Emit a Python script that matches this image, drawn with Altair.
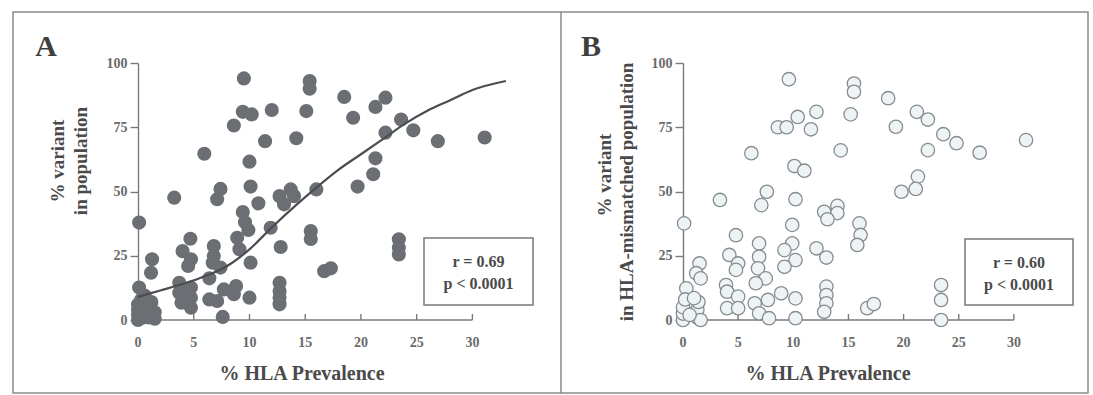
import altair as alt
import pandas as pd

# ---------------- data ----------------
a_x = [9.5, 9.4, 10.2, 12.0, 15.1, 15.4, 15.4, 8.6, 11.4, 14.2, 5.95, 10.0, 7.4, 7.1, 10.1, 3.25,
       13.7, 12.7, 13.1, 10.8, 14.0,
       18.5, 19.3, 21.3, 22.2, 23.6, 22.2, 24.7, 26.9, 31.1, 21.3, 21.1, 19.7, 16.0,
       0.1, 9.4, 9.6, 9.9, 8.9, 11.9, 15.5, 15.5, 4.7, 6.8, 6.8, 6.7, 7.4, 4.0, 4.75, 4.5,
       9.1, 10.1, 12.8, 1.26, 1.17, 6.4, 0.1,
       3.7, 4.75, 3.7, 4.75, 3.9, 4.75, 6.4, 7.1, 7.7, 8.8, 8.6, 10.0, 7.6,
       12.7, 12.7, 12.7, 12.7, 16.7, 17.3, 23.4, 23.4, 23.4,
       0.0, 0.0, 0.0, 0.0, 0.3, 1.0, 1.0, 1.0, 1.2, 1.5, 1.5, 0.5, 0.6]
a_y = [94, 81, 80, 81.7, 81.3, 93, 90, 75.7, 69.6, 70.7, 64.7, 61.6, 51, 47, 51.9, 47.6,
       50.8, 48.2, 45, 45.4, 48.2,
       86.8, 78.7, 82.9, 86.5, 78, 72.9, 73.8, 69.6, 71, 62.9, 56.7, 51.9, 50.8,
       37.9, 42, 38, 35, 32, 35.9, 34.6, 31.5, 31.6, 28.8, 24.9, 22.3, 20.4, 26.8, 23.6, 21,
       27.5, 22.3, 28.4, 23.6, 18.4, 16.2, 12.6,
       14.5, 12.6, 10.6, 8.7, 6.7, 4.8, 8, 7.4, 11.9, 13.2, 10, 8.7, 1.2,
       14.5, 11.3, 8.7, 6.1, 19, 20.1, 31.4, 28.1, 25.5,
       0, 2, 4, 6, 8, 1, 3, 5, 7, 0.5, 3, 1, 9.5]

b_x = [9.6, 10.4, 8.6, 9.4, 11.6, 12.1, 15.5, 15.5, 15.2, 14.3, 6.2, 10.1, 11.0, 7.6, 7.1, 10.2,
       3.35, 12.8, 14.0, 14.0, 13.1,
       18.6, 19.3, 21.2, 22.2, 23.6, 24.8, 26.9, 31.1, 22.2, 21.3, 21.1, 19.8,
       0.1, 9.9, 4.8, 6.9, 6.9, 6.8, 7.5, 6.6, 4.2, 5.0, 4.8, 9.9, 9.2, 10.2, 9.2, 12.1, 13.0,
       16.0, 16.1, 15.8, 1.5, 1.2, 1.6, 0.3,
       3.9, 4.0, 5.0, 4.0, 5.0, 6.5, 7.7, 6.9, 7.8, 8.9, 10.2, 10.2, 13.0, 13.0, 13.0, 12.8,
       16.7, 17.3, 23.4, 23.4, 23.4,
       0.0, 0.0, 0.0, 0.2, 1.3, 1.3, 1.4, 1.6, 0.6, 1.0]
b_y = [93.7, 79, 75, 75, 74.2, 81, 92, 88.8, 80, 66, 64.9, 59.9, 58.1, 49.9, 44.7, 47,
       46.7, 42.1, 44.4, 41.6, 39.2,
       86.3, 75.2, 81, 78, 72.3, 68.8, 65.1, 70, 66.1, 55.8, 51, 49.9,
       37.6, 37, 33, 29.8, 24.6, 20.1, 16.2, 14.3, 25.3, 22, 19.5, 29.8, 27.2, 23.3, 20.7, 27.9, 24.3,
       37.6, 33.1, 29.2, 22, 18.2, 16.2, 12.3,
       13.6, 11, 9.1, 4.6, 4.6, 6.5, 7.8, 2.6, 0.7, 10.4, 8.4, 0.7, 13, 9.7, 6.5, 3.2,
       4.6, 6.2, 13.6, 7.8, 0,
       0, 2.5, 5, 8, 1, 4, 7, 0, 2, 8.5]

fit_x = [0, 2, 4, 6, 8, 10, 12, 14, 16, 18, 20, 22, 24, 26, 28, 30, 33]
fit_y = [9, 11.5, 14, 17, 21, 27.5, 36, 44, 51.5, 58.5, 64.5, 70.5, 76.5, 81.5, 85.5, 89.5, 93]

x_ticks = [0, 5, 10, 15, 20, 25, 30]
y_ticks = [0, 25, 50, 75, 100]
x_domain = [0, 34]
y_domain = [0, 100]

stats_a = ["r = 0.69", "p < 0.0001"]
stats_b = ["r = 0.60", "p < 0.0001"]
letters = ["A", "B"]
x_title = "% HLA Prevalence"
y_title_a = ["% variant", "in population"]
y_title_b = ["% variant", "in  HLA-mismatched population"]

# ---------------- styling ----------------
SERIF = "Liberation Serif"
AX = "#7a7a7a"
TXT = "#4a4a4a"
H = 257
one = pd.DataFrame({"k": [0]})


def label(txt, x, y, size, angle=0, color=TXT):
    return alt.Chart(one).mark_text(
        text=txt, font=SERIF, fontSize=size, fontWeight="bold", color=color,
        align="center", baseline="middle", angle=angle,
    ).encode(x=alt.value(x), y=alt.value(y))


def box(x1, x2, y1, y2, color="#7a7a7a", width=1.5):
    return alt.Chart(one).mark_rect(fillOpacity=0, stroke=color, strokeWidth=width).encode(
        x=alt.value(x1), x2=alt.value(x2), y=alt.value(y1), y2=alt.value(y2))


def panel(width, points_layer, extra, letter, ytitles, ypos, xt_x, bx, stats):
    xs = alt.Scale(domain=x_domain, nice=False, zero=False)
    ticks_df = pd.DataFrame({"t": x_ticks})
    axis_df = pd.DataFrame({"a": [x_ticks[0]], "b": [x_ticks[-1]]})
    x_line = alt.Chart(axis_df).mark_rule(color=AX, strokeWidth=1.4).encode(
        x=alt.X("a:Q", scale=xs, axis=None), x2="b:Q", y=alt.value(H))
    x_tk = alt.Chart(ticks_df).mark_rule(color=AX, strokeWidth=1.4).encode(
        x=alt.X("t:Q", scale=xs, axis=None), y=alt.value(H), y2=alt.value(H - 6))
    x_lb = alt.Chart(ticks_df).mark_text(
        font=SERIF, fontSize=14, fontWeight="bold", color="#6a6a6a", baseline="middle"
    ).encode(x=alt.X("t:Q", scale=xs, axis=None), y=alt.value(H + 23), text="t:Q")
    layers = list(extra) + [
        box(bx[0], bx[1], bx[2], bx[3]),
        label(stats[0], (bx[0] + bx[1]) / 2, bx[2] + 24, 16),
        label(stats[1], (bx[0] + bx[1]) / 2, bx[2] + 46, 16),
        label(letter, -92, -16, 30, color="#3f3f3f"),
        label(ytitles[0], ypos[0][0], ypos[0][1], 19, angle=270),
        label(ytitles[1], ypos[1][0], ypos[1][1], 19, angle=270),
        label(x_title, xt_x, H + 54, 20),
        x_line, x_tk, x_lb,
    ] + points_layer
    return alt.layer(*layers).properties(width=width, height=H)


xsA = alt.Scale(domain=x_domain, nice=False, zero=False)
ys = alt.Scale(domain=y_domain, nice=False)
y_axis = alt.Axis(values=y_ticks, tickSize=8, labelPadding=3, domainColor=AX, tickColor=AX,
                  domainWidth=1.4, tickWidth=1.4, labelFont=SERIF, labelFontSize=14,
                  labelFontWeight="bold", labelColor="#6a6a6a", grid=False, title="")

dfA = pd.DataFrame({"x": a_x, "y": a_y})
dfB = pd.DataFrame({"x": b_x, "y": b_y})
dfF = pd.DataFrame({"x": fit_x, "y": fit_y})

ptsA = alt.Chart(dfA).mark_circle(size=200, color="#6b6e72", opacity=1).encode(
    x=alt.X("x:Q", scale=xsA, axis=None), y=alt.Y("y:Q", scale=ys, axis=y_axis))
fitA = alt.Chart(dfF).mark_line(color="#4b4d50", strokeWidth=2.2, interpolate="monotone").encode(
    x=alt.X("x:Q", scale=xsA, axis=None), y=alt.Y("y:Q", scale=ys, axis=y_axis))

xsB = alt.Scale(domain=x_domain, nice=False, zero=False)
ptsB = alt.Chart(dfB).mark_point(shape="circle", filled=True, fill="#eef3f5", stroke="#868c90",
                                 strokeWidth=1.3, size=180, opacity=1).encode(
    x=alt.X("x:Q", scale=xsB, axis=None), y=alt.Y("y:Q", scale=ys, axis=y_axis))

frame = box(-125, 950, -51, 330, color="#8a8a8a", width=1.5)
divider = alt.Chart(one).mark_rule(color="#8a8a8a", strokeWidth=1.5).encode(
    x=alt.value(423), y=alt.value(-51), y2=alt.value(330))

panelA = panel(379, [ptsA, fitA], [frame, divider], letters[0], y_title_a,
               [(-80, 98), (-57, 98)], 164, (286, 395, 175, 242), stats_a)
panelB = panel(375, [ptsB], [], letters[1], y_title_b,
               [(-78, 112), (-56, 129)], 145, (282, 390, 176, 242), stats_b)

chart = alt.hconcat(panelA, panelB, spacing=166, bounds="flush").properties(
    padding={"left": 12, "top": 11, "right": 2, "bottom": 1},
    background="white",
).configure_view(strokeWidth=0)

chart.save("out.html", embed_options={"renderer": "svg", "actions": False})
